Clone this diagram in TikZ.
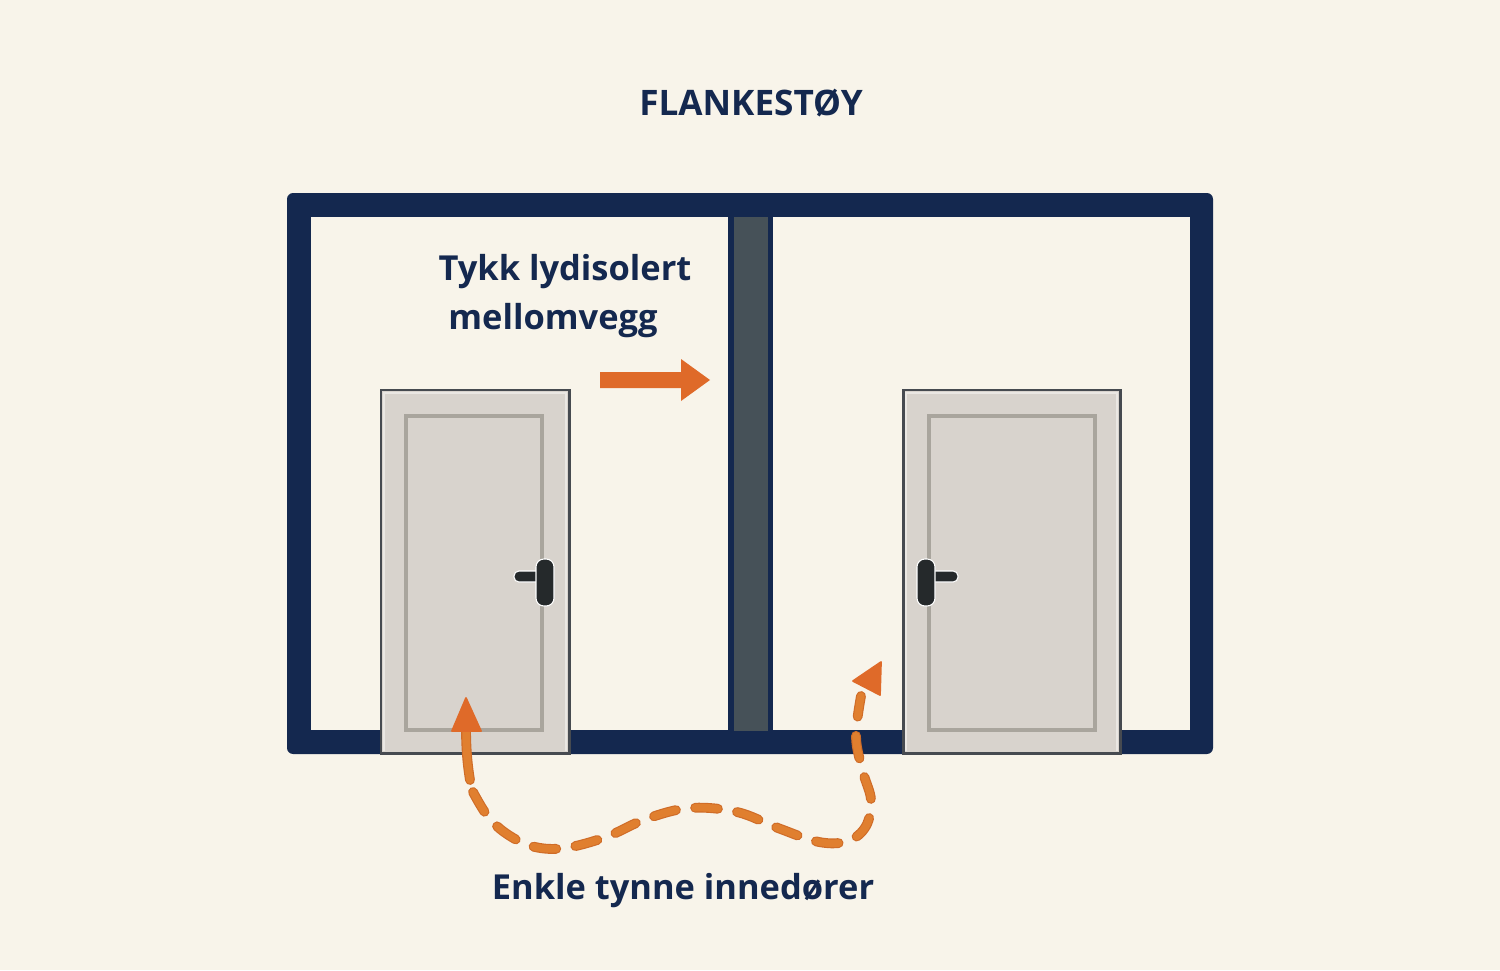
\documentclass[tikz,border=0pt]{standalone}
\usepackage{fontspec}
\setmainfont{Open Sans}
\usetikzlibrary{arrows.meta}
\definecolor{paper}{HTML}{F8F4EA}
\definecolor{navy}{HTML}{14284F}
\definecolor{slate}{HTML}{465158}
\definecolor{doorfill}{HTML}{D8D3CD}
\definecolor{doorline}{HTML}{464A50}
\definecolor{panelline}{HTML}{A9A59D}
\definecolor{handle}{HTML}{25292B}
\definecolor{arrowred}{HTML}{DF6A29}
\definecolor{dashfill}{HTML}{E07F2F}
\definecolor{dashedge}{HTML}{CF6C28}

\begin{document}
\begin{tikzpicture}[x=0.02cm,y=-0.02cm,
	title/.style={text=navy,font=\bfseries\fontsize{20}{24}\selectfont,inner sep=0pt},
	caption/.style={text=navy,font=\bfseries\fontsize{19.6}{24}\selectfont,inner sep=0pt},
	door/.style={fill=doorfill,draw=doorline,line width=1.7pt},
	panel/.style={draw=panelline,line width=2pt},
	grip/.style={draw=white,line width=0.6pt,fill=handle,rounded corners=4.5pt},
	lever/.style={draw=white,line width=0.6pt,fill=handle,rounded corners=2.8pt}]
	
	\fill[paper] (0,0) rectangle (1500,970);
	
	% walls
	\fill[navy,rounded corners=3.5pt] (287,193) rectangle (1213,754);
	\fill[paper] (311,217) rectangle (1190,730);
	\fill[navy] (728,217) rectangle (773,730);
	\fill[slate] (734,217) rectangle (768,731);
	
	% doors
	\foreach \xa/\xb/\pa/\pb in {381/569/406/542,903/1120/929/1095}{
		\filldraw[door] (\xa,753) -- (\xa,390) -- (\xb,390) -- (\xb,753) -- cycle;
		\draw[doorfill!55!white,line width=0.7pt] (\xa+3,751) -- (\xa+3,393) -- (\xb-3,393) -- (\xb-3,751);
		\draw[panel] (\pa,416) rectangle (\pb,730);
	}
	
	% handles
	\filldraw[lever] (514,571) rectangle (546,582);
	\filldraw[grip] (536,559) rectangle (554,606);
	\filldraw[lever] (926,571) rectangle (958,582);
	\filldraw[grip] (917,559) rectangle (935,606);
	
	% arrow to the wall
	\coordinate (wallstart) at (600,380);
	\coordinate (wallend) at (710,380);
	\fill[arrowred] (wallstart) ++(0,-8) -- ++(81,0) -- ++(0,-13) -- (wallend) -- (681,401) -- ++(0,-13) -- (600,388) -- cycle;
	
	% way under the doors
	\coordinate (doorone) at (466,698);
	\coordinate (stemend) at (470,780);
	\coordinate (doortwo) at (881,662);
	\foreach \c/\w in {dashedge/5.6pt,dashfill/4.3pt}{
		\draw[\c,line width=\w,line cap=round] (466,728) .. controls (466,745) and (467,762) .. (stemend);
		\draw[\c,line width=\w,line cap=round,dash pattern=on 13pt off 11pt] plot[smooth,tension=0.6] coordinates {(473,792) (489,818) (510,836) (535,847) (565,848) (606,837) (646,819) (690,808) (737,812) (778,828) (819,842) (848,841) (866,826) (871,800) (863,772) (856,737) (861,696)};
	}
	\filldraw[arrowred,draw=arrowred,line width=1pt,line join=round] (doorone) -- (452,731) -- (481,731) -- cycle;
	\filldraw[arrowred,draw=arrowred,line width=1pt,line join=round] (doortwo) -- (853,681) -- (880,695) -- cycle;
	
	% texts
	\node[title] (heading) at (751,103) {FLANKESTØY};
	\node[caption] (wallname) at (565,272) {Tykk lydisolert};
	\node[caption] (wallnametwo) at (553,321) {mellomvegg};
	\node[caption] (doorname) at (683,891) {Enkle tynne innedører};
\end{tikzpicture}
\end{document}
